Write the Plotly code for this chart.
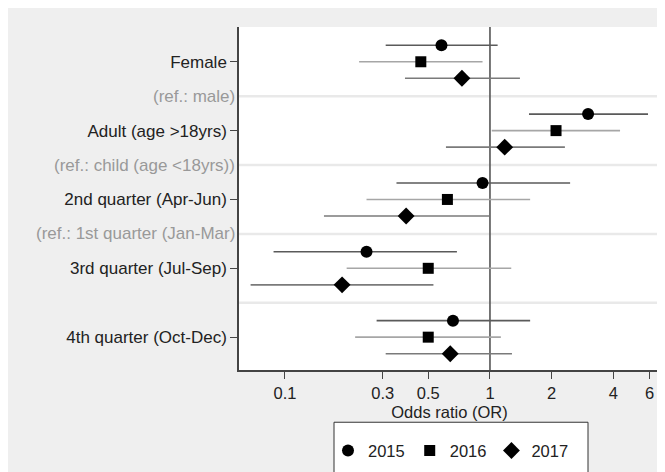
import plotly.graph_objects as go
import math

# ---------------- data ----------------
categories = ["Female", "Adult (age >18yrs)", "2nd quarter (Apr-Jun)",
              "3rd quarter (Jul-Sep)", "4th quarter (Oct-Dec)"]
ref_labels = ["(ref.: male)", "(ref.: child (age <18yrs))", "(ref.: 1st quarter (Jan-Mar)"]
years = ["2015", "2016", "2017"]

or_2015 = [0.58, 3.01, 0.92, 0.25, 0.66]
lo_2015 = [0.31, 1.55, 0.35, 0.088, 0.28]
hi_2015 = [1.09, 5.90, 2.46, 0.69, 1.57]

or_2016 = [0.46, 2.10, 0.62, 0.50, 0.50]
lo_2016 = [0.23, 1.02, 0.25, 0.20, 0.22]
hi_2016 = [0.92, 4.31, 1.57, 1.27, 1.13]

or_2017 = [0.73, 1.18, 0.39, 0.19, 0.64]
lo_2017 = [0.385, 0.61, 0.155, 0.068, 0.31]
hi_2017 = [1.40, 2.32, 0.99, 0.53, 1.28]

x_ticks = [0.1, 0.3, 0.5, 1, 2, 4, 6]
x_tick_labels = ["0.1", "0.3", "0.5", "1", "2", "4", "6"]

# row layout (row index from top)
main_rows = [1, 3, 5, 7, 9]
ref_rows = [2, 4, 6]
sep_rows = [2, 4, 6, 8]
year_offsets = [-0.48, 0.0, 0.48]

# ---------------- style ----------------
FONT = "Liberation Sans, Arial, sans-serif"
BG = "#efefef"
symbols = ["circle", "square", "diamond"]
msizes = [12, 11, 13]
ci_colors = ["#5a5a5a", "#a6a6a6", "#7a7a7a"]

series = [(or_2015, lo_2015, hi_2015), (or_2016, lo_2016, hi_2016), (or_2017, lo_2017, hi_2017)]

fig = go.Figure()
for i, (yr, (o, lo, hi)) in enumerate(zip(years, series)):
    fig.add_trace(go.Scatter(
        x=o,
        y=[r + year_offsets[i] for r in main_rows],
        mode="markers",
        name=yr,
        marker=dict(symbol=symbols[i], size=msizes[i], color="black"),
        error_x=dict(type="data", symmetric=False,
                     array=[h - v for h, v in zip(hi, o)],
                     arrayminus=[v - l for v, l in zip(o, lo)],
                     color=ci_colors[i], thickness=1.6, width=0),
    ))

# figure geometry in px (page adds an 8px body margin)
W, H = 665, 472
ML, MR, MT, MB = 231, 13, 19, 105
PW, PH = W - ML - MR, H - MT - MB

def px_x(px):
    return (px - ML) / PW

def px_y(py):
    return (H - MB - py) / PH

shapes = []
for r in sep_rows:
    shapes.append(dict(type="line", xref="paper", yref="y", x0=0, x1=1, y0=r, y1=r,
                       line=dict(color="#e9e9e9", width=2.5), layer="below"))
shapes.append(dict(type="line", xref="x", yref="paper", x0=1, x1=1, y0=0, y1=1,
                   line=dict(color="#555555", width=1.6), layer="below"))
# legend frame
shapes.append(dict(type="rect", xref="paper", yref="paper", x0=px_x(326), x1=px_x(580),
                   y0=px_y(485), y1=px_y(420), fillcolor="white",
                   line=dict(color="#333333", width=1), layer="above"))

annotations = []
for r, t in zip(ref_rows, ref_labels):
    annotations.append(dict(text=t, xref="paper", yref="y", x=0, y=r, xanchor="right",
                            yanchor="middle", xshift=-2, showarrow=False,
                            font=dict(family=FONT, size=17, color="#999999")))

fig.update_layout(
    width=W, height=H,
    margin=dict(l=ML, r=MR, t=MT, b=MB),
    paper_bgcolor=BG, plot_bgcolor="white",
    font=dict(family=FONT, size=16.5, color="#222222"),
    shapes=shapes,
    annotations=annotations,
    showlegend=True,
    legend=dict(orientation="h", x=px_x(320), xanchor="left", y=px_y(449), yanchor="middle",
                bgcolor="rgba(0,0,0,0)", borderwidth=0,
                font=dict(family=FONT, size=16.5, color="#222222")),
    xaxis=dict(type="log", range=[math.log10(0.0597), math.log10(6.75)],
               tickvals=x_ticks, ticktext=x_tick_labels,
               showline=True, linecolor="#444444", linewidth=1.5,
               ticks="outside", ticklen=7, tickcolor="#444444", tickwidth=1.3,
               showgrid=False, zeroline=False,
               tickfont=dict(family=FONT, size=16.5),
               title=dict(text="Odds ratio (OR)", font=dict(family=FONT, size=16.5), standoff=6)),
    yaxis=dict(range=[9.954, -0.01], tickvals=main_rows, ticktext=categories,
               showline=True, linecolor="#444444", linewidth=1.5,
               ticks="outside", ticklen=7, tickcolor="#444444", tickwidth=1.3,
               tickfont=dict(family=FONT, size=17),
               showgrid=False, zeroline=False),
)

fig.write_html("out.html")
